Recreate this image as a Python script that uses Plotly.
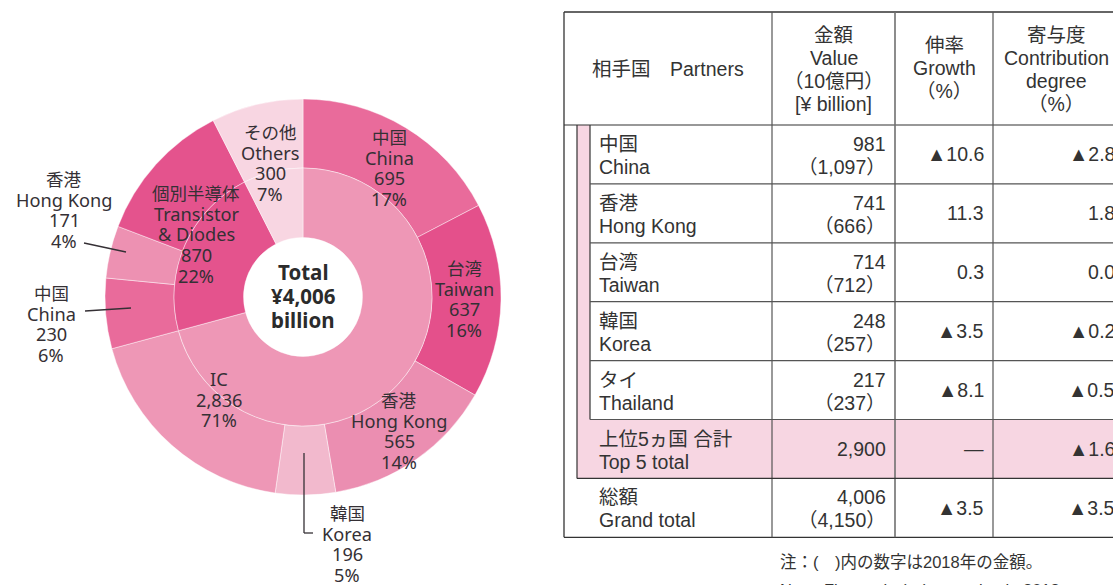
import plotly.graph_objects as go

W, H = 1113, 585

# ---------------- data ----------------
total_value = 4006
total_label = ["Total", "¥4,006", "billion"]

inner_ids = ["IC", "TD", "OT"]
inner_ja = ["", "個別半導体", "その他"]
inner_en = [["IC"], ["Transistor", "& Diodes"], ["Others"]]
inner_values = [2836, 870, 300]

ic_partner_ja = ["中国", "台湾", "香港", "韓国"]
ic_partner_en = ["China", "Taiwan", "Hong Kong", "Korea"]
ic_partner_values = [695, 637, 565, 196]

td_partner_ja = ["中国", "香港"]
td_partner_en = ["China", "Hong Kong"]
td_partner_values = [230, 171]

# table
tbl_partner_ja = ["中国", "香港", "台湾", "韓国", "タイ"]
tbl_partner_en = ["China", "Hong Kong", "Taiwan", "Korea", "Thailand"]
value_2019 = [981, 741, 714, 248, 217]
value_2018 = [1097, 666, 712, 257, 237]
growth = [-10.6, 11.3, 0.3, -3.5, -8.1]
contribution = [-2.8, 1.8, 0.0, -0.2, -0.5]
top5_label = ["上位5ヵ国 合計", "Top 5 total"]
top5_value = 2900
top5_contribution = -1.6
grand_label = ["総額", "Grand total"]
grand_2019 = 4006
grand_2018 = 4150
grand_growth = -3.5
grand_contribution = -3.5

header_partner = "相手国　Partners"
header_value = ["金額", "Value", "（10億円）", "[¥ billion]"]
header_growth = ["伸率", "Growth", "（%）"]
header_contrib = ["寄与度", "Contribution", "degree", "（%）"]
note_lines = ["注：(　)内の数字は2018年の金額。", "Note: Figures in (　) are value in 2018."]

# ---------------- styles ----------------
C_IC = "#ee97b6"
C_TD = "#e4538d"
C_OT = "#f8d6e2"
inner_colors = [C_IC, C_TD, C_OT]
ic_partner_colors = ["#e96b9b", "#e4508b", "#eb8eb1", "#f2b9cd"]
td_partner_colors = ["#e96b9b", "#ed91b2"]
TXT = "#353035"
F_DONUT = "Noto Sans, Noto Sans CJK JP, sans-serif"
F_TABLE = "Liberation Sans, Arial, Noto Sans CJK JP, sans-serif"
PINK = "#f7d6e2"

CX, CY = 303, 297
R_OUT, R_MID, R_HOLE = 198, 129, 59.5


def px(x):
    return x / W


def py(y):
    return 1 - y / H


def dom(r):
    return dict(x=[px(CX - r), px(CX + r)], y=[py(CY + r), py(CY - r)])


# outer ring values derived from data
ic_rest = inner_values[0] - sum(ic_partner_values)
td_rest = inner_values[1] - sum(td_partner_values)
outer_values = ic_partner_values + [ic_rest] + td_partner_values + [td_rest] + [inner_values[2]]
outer_colors = ic_partner_colors + [C_IC] + td_partner_colors + [C_TD] + [C_OT]

fig = go.Figure()
line_style = dict(color="rgba(255,255,255,0.55)", width=0.8)
fig.add_trace(go.Pie(values=outer_values, sort=False, direction="clockwise", rotation=0,
                     hole=R_MID / R_OUT, domain=dom(R_OUT), textinfo="none",
                     marker=dict(colors=outer_colors, line=line_style),
                     hoverinfo="skip", showlegend=False))
fig.add_trace(go.Pie(values=inner_values, sort=False, direction="clockwise", rotation=0,
                     hole=R_HOLE / R_MID, domain=dom(R_MID), textinfo="none",
                     marker=dict(colors=inner_colors, line=line_style),
                     hoverinfo="skip", showlegend=False))

annotations = []
shapes = []


def is_cjk(s):
    return any(ord(c) > 0x2E80 for c in s)


def add_lines(x, y0, lines, spacing, family, size_lat, size_cjk, xanchor="center",
              bold=False, color=TXT):
    for i, t in enumerate(lines):
        size = size_cjk if is_cjk(t) else size_lat
        annotations.append(dict(
            x=px(x), y=py(y0 + i * spacing), xref="paper", yref="paper",
            text=f"<b>{t}</b>" if bold else t, showarrow=False,
            xanchor=xanchor, yanchor="middle",
            font=dict(family=family, size=size, color=color)))


def pct(v):
    return f"{round(v / total_value * 100)}%"


DL, DC = 18.2, 17.5  # donut label sizes (latin, cjk)

# ---- donut labels ----
ic_label_pos = [(389, 137), (464, 268), (399, 400), (347, 513)]
for (x, y), ja, en, v in zip(ic_label_pos, ic_partner_ja, ic_partner_en, ic_partner_values):
    add_lines(x, y, [ja, en, f"{v:,}", pct(v)], 20.7, F_DONUT, DL, DC)
td_label_pos = [(51, 293), (64, 179)]
for (x, y), ja, en, v in zip(td_label_pos, td_partner_ja, td_partner_en, td_partner_values):
    add_lines(x, y, [ja, en, f"{v:,}", pct(v)], 20.7, F_DONUT, DL, DC)
inner_label_pos = [(219, 379), (196, 193), (270, 132)]
for (x, y), ja, en, v in zip(inner_label_pos, inner_ja, inner_en, inner_values):
    lines = ([ja] if ja else []) + en + [f"{v:,}", pct(v)]
    add_lines(x, y, lines, 20.7, F_DONUT, DL, DC)

add_lines(CX, 272, total_label, 24, F_DONUT, 20.5, 20.5, bold=True, color="#2b2b2b")


# leader lines
def seg(x0, y0, x1, y1, color=TXT, width=1.3):
    shapes.append(dict(type="line", xref="paper", yref="paper",
                       x0=px(x0), y0=py(y0), x1=px(x1), y1=py(y1),
                       line=dict(color=color, width=width)))


seg(84, 243, 126, 252)
seg(85, 311, 131, 308)
seg(304, 453, 304, 533)
seg(304, 533, 313, 533)

# ---- table ----
L, X1, X2, C1, C2, C3, R = 564, 577, 590, 772, 895, 993, 1123
T, HB, RH = 12, 125, 58.9
rows = [HB + i * RH for i in range(8)]
BOT = rows[7]


def rect(x0, y0, x1, y1, color):
    shapes.append(dict(type="rect", xref="paper", yref="paper", layer="below",
                       x0=px(x0), y0=py(y0), x1=px(x1), y1=py(y1),
                       fillcolor=color, line=dict(width=0)))


rect(X1, HB, X2, rows[6], PINK)
rect(X1, rows[5], R + 20, rows[6], PINK)

OUT = "#333333"
INN = "#555555"
seg(L, T, R + 20, T, OUT, 1.3)
seg(L, T, L, BOT, OUT, 1.3)
seg(L, BOT, R + 20, BOT, OUT, 1.3)
seg(L, HB, R + 20, HB, OUT, 1.2)
for cx in (C1, C3):
    seg(cx, T, cx, BOT, INN, 1.2)
seg(C2, T, C2, BOT, "#707070", 1.6)
seg(X1, HB, X1, rows[6], OUT, 1.2)
seg(X2, HB, X2, rows[5], OUT, 1.2)
for i in range(1, 6):
    seg(X2, rows[i], R + 20, rows[i], INN, 1.2)
seg(X1, rows[6], R + 20, rows[6], OUT, 1.2)

FS = 19.5
TC = "#333333"
add_lines((L + C1) / 2, 69, [header_partner], 23, F_TABLE, FS, FS, color=TC)
add_lines((C1 + C2) / 2, 35, header_value, 23, F_TABLE, FS, FS, color=TC)
add_lines((C2 + C3) / 2, 45, header_growth, 23, F_TABLE, FS, FS, color=TC)
add_lines((C3 + R) / 2 - 2, 35, header_contrib, 23, F_TABLE, FS, FS, color=TC)


def tri(v):
    return f"▲{abs(v):.1f}" if v < 0 else f"{v:.1f}"


for i in range(5):
    top = rows[i]
    add_lines(597, top + 19, [tbl_partner_ja[i], tbl_partner_en[i]], 23, F_TABLE, FS, FS,
              xanchor="left", color=TC)
    add_lines(C2 - 7, top + 19, [f"{value_2019[i]:,}", f"（{value_2018[i]:,}）"], 23,
              F_TABLE, FS, FS, xanchor="right", color=TC)
    add_lines(C3 - 7, top + RH / 2, [tri(growth[i])], 23, F_TABLE, FS, FS, xanchor="right", color=TC)
    add_lines(R - 6, top + RH / 2, [tri(contribution[i])], 23, F_TABLE, FS, FS, xanchor="right", color=TC)

top = rows[5]
add_lines(597, top + 19, top5_label, 23, F_TABLE, FS, FS, xanchor="left", color=TC)
add_lines(C2 - 7, top + RH / 2, [f"{top5_value:,}"], 23, F_TABLE, FS, FS, xanchor="right", color=TC)
add_lines(C3 - 7, top + RH / 2, ["—"], 23, F_TABLE, FS, FS, xanchor="right", color=TC)
add_lines(R - 6, top + RH / 2, [tri(top5_contribution)], 23, F_TABLE, FS, FS, xanchor="right", color=TC)

top = rows[6]
add_lines(597, top + 19, grand_label, 23, F_TABLE, FS, FS, xanchor="left", color=TC)
add_lines(C2 - 7, top + 19, [f"{grand_2019:,}", f"（{grand_2018:,}）"], 23, F_TABLE, FS, FS,
          xanchor="right", color=TC)
add_lines(C3 - 7, top + RH / 2, [tri(grand_growth)], 23, F_TABLE, FS, FS, xanchor="right", color=TC)
add_lines(R - 6, top + RH / 2, [tri(grand_contribution)], 23, F_TABLE, FS, FS, xanchor="right", color=TC)

add_lines(778, 562, note_lines, 28, F_TABLE, 16.5, 16.5, xanchor="left", color=TC)

fig.update_layout(width=W, height=H, margin=dict(l=0, r=0, t=0, b=0),
                  paper_bgcolor="white", plot_bgcolor="white",
                  annotations=annotations, shapes=shapes)

fig.write_html("out.html", config={"displayModeBar": False},
               post_script="document.body.style.margin='0px';"
                           "document.body.style.overflow='hidden';")
